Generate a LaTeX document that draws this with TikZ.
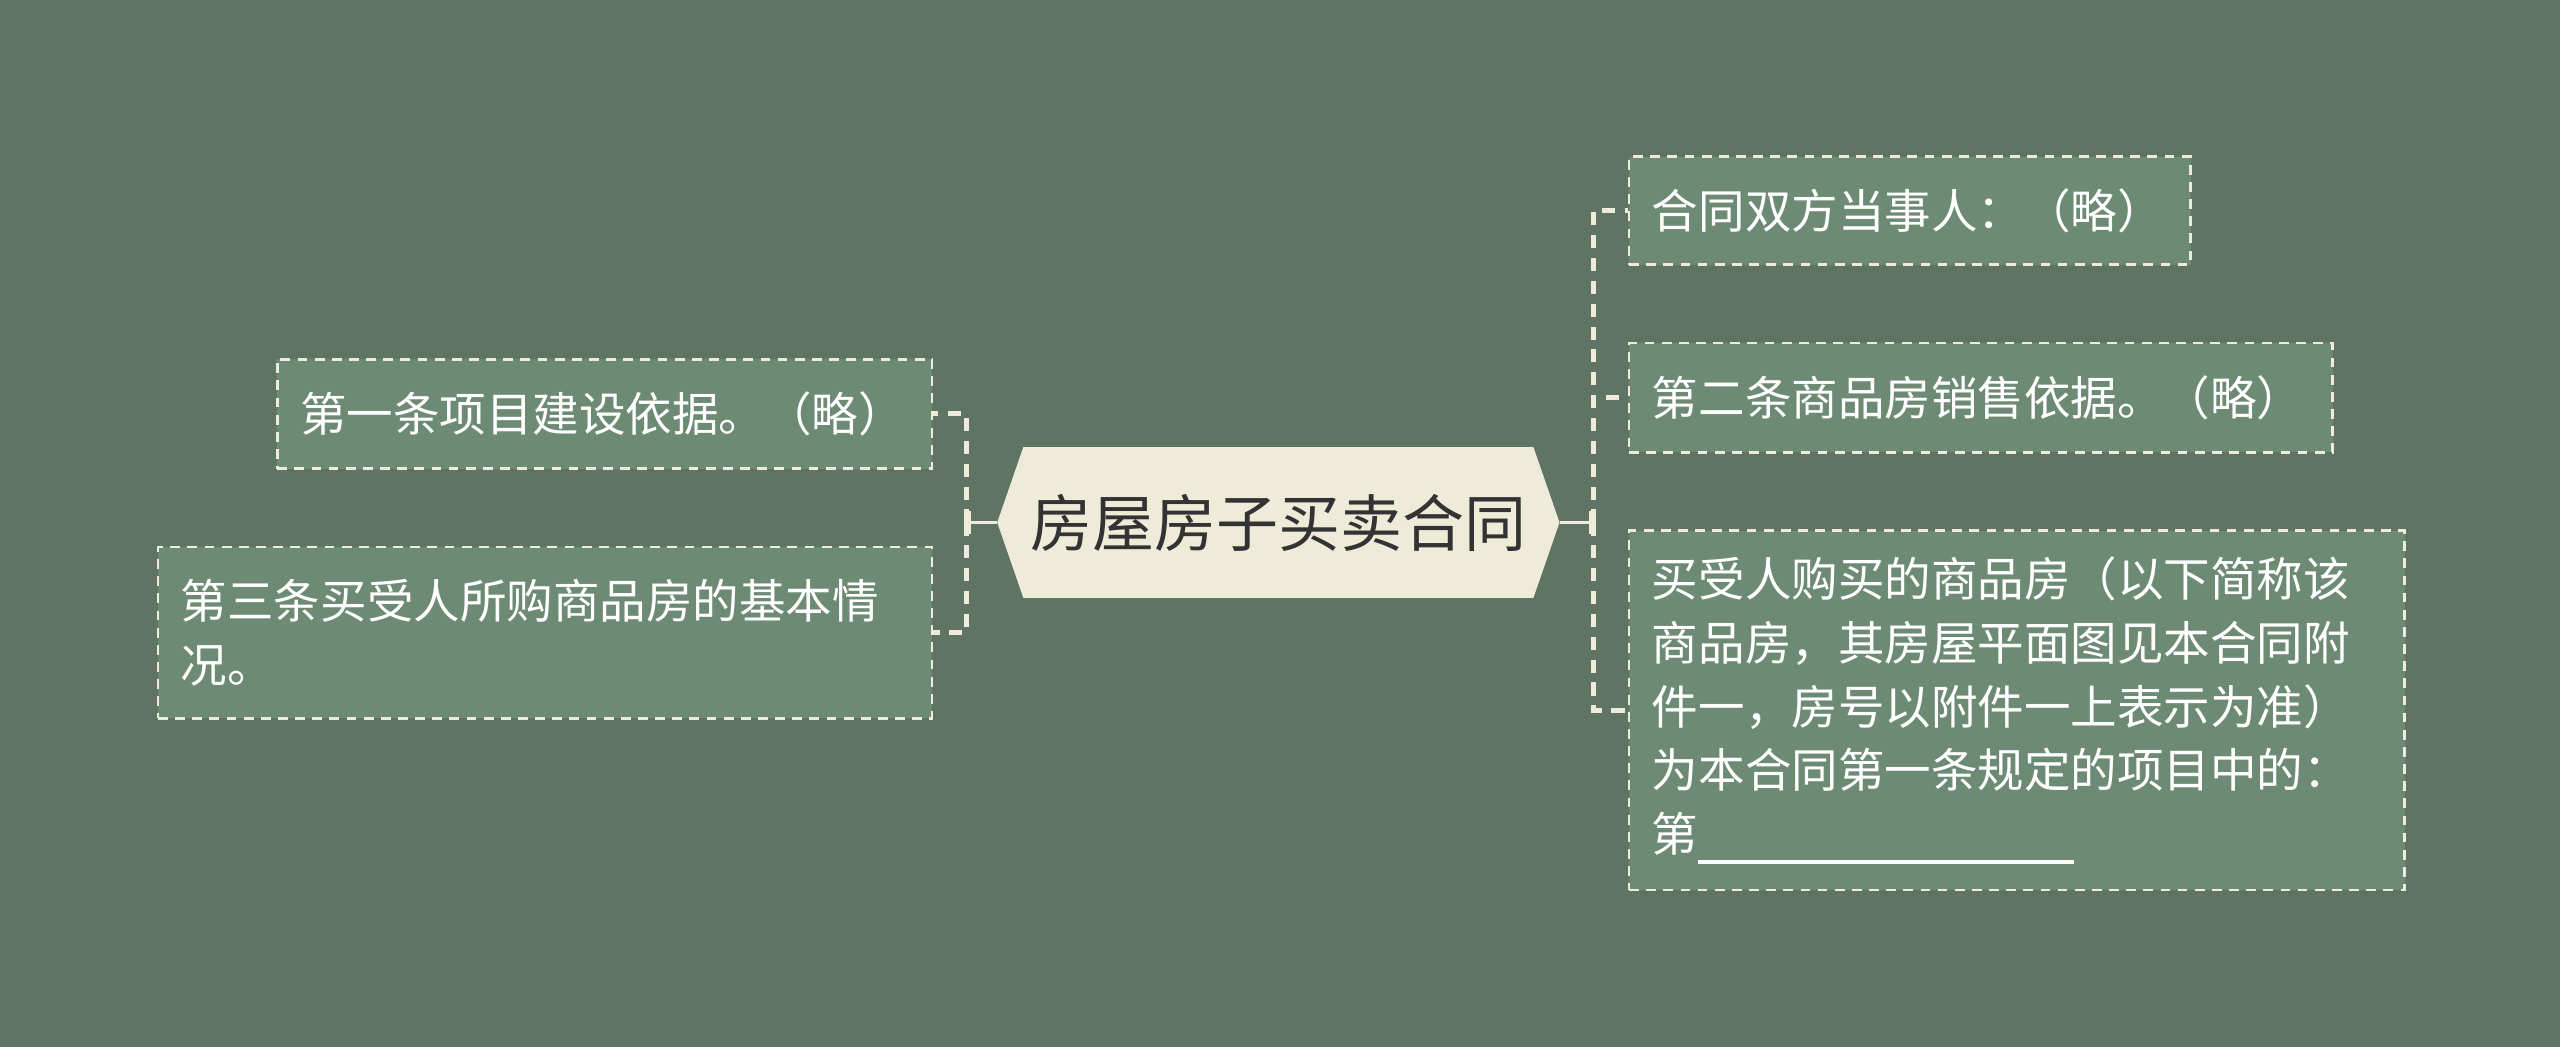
\documentclass[tikz,border=0pt]{standalone}
\usepackage{fontspec}
\newfontfamily\cjk{Noto Sans CJK SC}
\usetikzlibrary{arrows.meta,backgrounds}
\definecolor{bgcol}{HTML}{5F7464}
\definecolor{leafcol}{HTML}{6D8B74}
\definecolor{creamcol}{HTML}{EFEBD9}
\definecolor{titlecol}{HTML}{333333}
\begin{document}
\begin{tikzpicture}[x=1pt,y=-1pt,
  every node/.style={font=\cjk\fontsize{28.5}{39}\selectfont},
  leaf/.style={draw=creamcol,fill=leafcol,text=white,line width=1.6pt,dash pattern=on 6pt off 4.5pt,inner xsep=14pt,inner ysep=0pt,align=left,anchor=west},
  link/.style={draw=creamcol,line width=3pt,dash pattern=on 8pt off 6pt},
  stub/.style={draw=creamcol,line width=2pt,-{Bar[width=14pt,line width=2.5pt]}}]
\useasboundingbox (0,0) rectangle (1568,641);
\node[font=\cjk\fontsize{38}{44}\selectfont,text=titlecol,minimum width=344pt,minimum height=92pt,inner sep=0pt] (title) at (783,320) {房屋房子买卖合同};
\node[leaf,minimum height=67pt,text width=373pt] (l1) at (169,253.5) {第一条项目建设依据。（略）};
\node[leaf,minimum height=105pt,text width=446pt] (l2) at (96,387.5) {第三条买受人所购商品房的基本情\\况。};
\node[leaf,minimum height=66pt,text width=316pt] (r1) at (997,129) {合同双方当事人：（略）};
\node[leaf,minimum height=67pt,text width=403pt] (r2) at (997,243.5) {第二条商品房销售依据。（略）};
\node[leaf,minimum height=220pt,text width=447pt] (r3) at (997,435) {买受人购买的商品房（以下简称该\\商品房，其房屋平面图见本合同附\\件一，房号以附件一上表示为准）\\为本合同第一条规定的项目中的：\\第\rule[-7.5pt]{230pt}{2pt}};
\coordinate (lhub) at (592,320);
\coordinate (rhub) at (976,320);
\draw[stub] (title.west) -- (lhub);
\draw[stub] (title.east) -- (rhub);
\foreach \leaf in {l1,l2} \draw[link] (lhub) |- (\leaf.east);
\foreach \leaf in {r1,r2,r3} \draw[link] (rhub) |- (\leaf.west);
\begin{pgfonlayer}{background}
\fill[bgcol] (0,0) rectangle (1568,641);
\fill[creamcol] (title.west) -- ([xshift=16pt]title.north west) -- ([xshift=-16pt]title.north east) -- (title.east) -- ([xshift=-16pt]title.south east) -- ([xshift=16pt]title.south west) -- cycle;
\end{pgfonlayer}
\end{tikzpicture}
\end{document}
